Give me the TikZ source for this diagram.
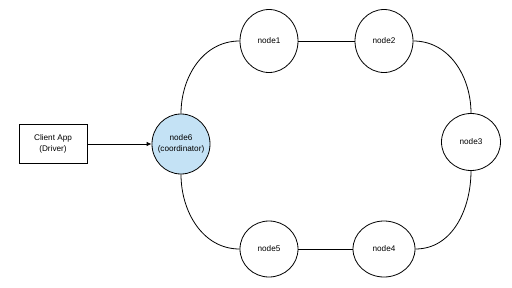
\documentclass[tikz,border=0pt]{standalone}
\usepackage{fontspec}
\setmainfont{Liberation Sans}
\usetikzlibrary{shapes.geometric,arrows.meta}
\definecolor{coordblue}{RGB}{196,226,245}
\begin{document}
\begin{tikzpicture}[x=1pt,y=-1pt,
  ring/.style={draw=black,line width=0.8pt,ellipse,inner sep=0pt,font=\fontsize{8.2}{11}\selectfont,align=center},
  link/.style={draw=black,line width=0.8pt},
  clientbox/.style={draw=black,line width=0.6pt,rectangle,inner sep=0pt,minimum width=68pt,minimum height=39pt,font=\fontsize{8.2}{11}\selectfont,align=center}]
\useasboundingbox (0,0) rectangle (512,287);
\node[clientbox] (client) at (53,143.5) {Client App\\(Driver)};
\node[ring,fill=coordblue,inner xsep=-12pt,inner ysep=-8pt,minimum width=58pt,minimum height=60pt] (n6) at (181,144) {node6\\(coordinator)};
\node[ring,minimum width=58pt,minimum height=63pt] (n1) at (269,41) {node1};
\node[ring,minimum width=58pt,minimum height=63pt] (n2) at (384,41) {node2};
\node[ring,minimum width=59pt,minimum height=57pt] (n3) at (471,142) {node3};
\node[ring,minimum width=62pt,minimum height=56pt] (n4) at (384,249) {node4};
\node[ring,minimum width=58pt,minimum height=56pt] (n5) at (269,249) {node5};
\draw[link,-{Latex[length=5pt,width=4.5pt]}] (client.east |- n6.west) -- (n6.west);
\draw[link] (n1.east) -- (n2.west);
\draw[link] (n5.east) -- (n4.west);
\draw[link] (n1.west) to[out=180,in=90] (n6.north);
\draw[link] (n2.east) to[out=0,in=90] (n3.north);
\draw[link] (n3.south) to[out=-90,in=0] (n4.east);
\draw[link] (n6.south) to[out=-90,in=180] (n5.west);
\end{tikzpicture}
\end{document}
